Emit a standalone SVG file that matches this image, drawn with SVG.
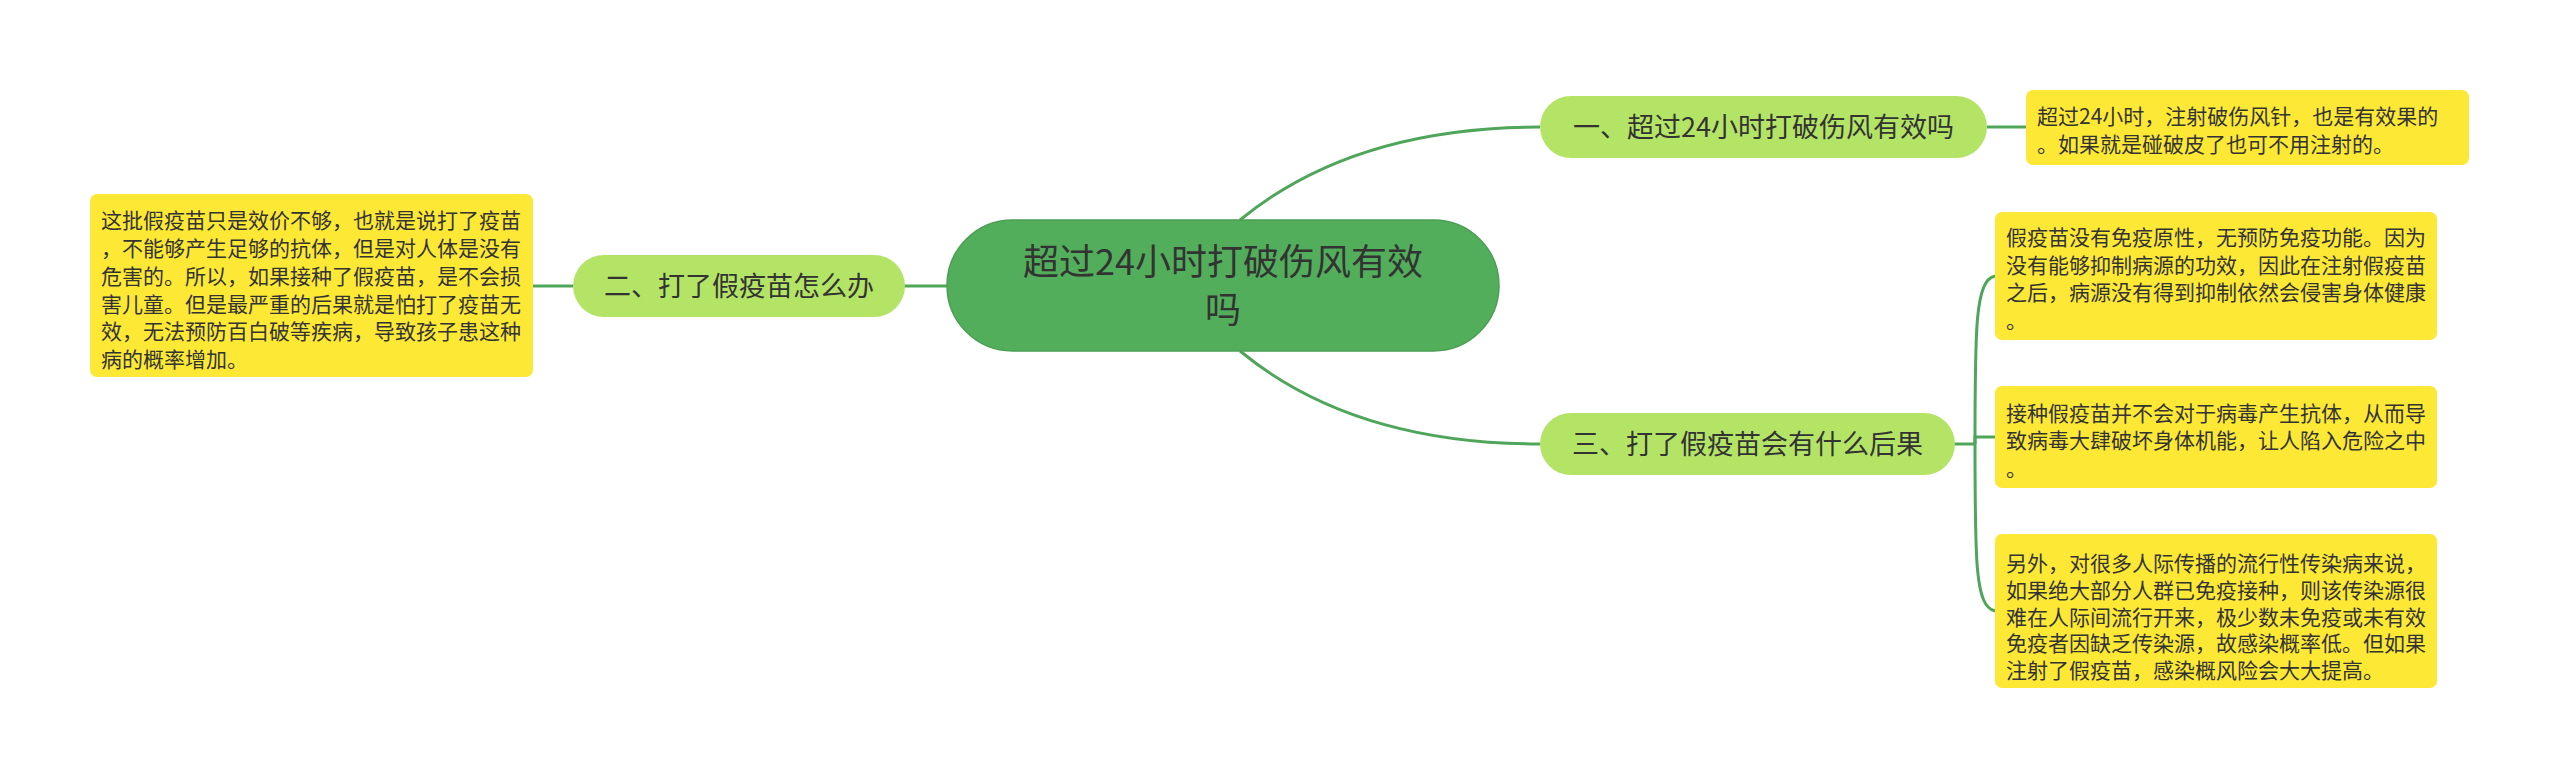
<svg xmlns="http://www.w3.org/2000/svg" width="2560" height="781" viewBox="0 0 2560 781">
<style>
.t{font-family:"Noto Sans CJK SC","Noto Sans",sans-serif;fill:#333333}
.root{fill:#52AE5B;stroke:#4A9F53;stroke-width:1.5}
.br{fill:#B4E466}
.leaf{fill:#FDE935}
.c{fill:none;stroke:#4FA65A;stroke-width:3}
.f36{font-size:36px}
.f27{font-size:27px}
.f21{font-size:21px}
</style>
<rect width="2560" height="781" fill="#ffffff"/>
<g id="connectors">
<path class="c" d="M1240,220 Q1353,127 1540,127"/>
<path class="c" d="M1240,351 Q1353,444 1540,444"/>
<path class="c" d="M947,286 L904,286"/>
<path class="c" d="M573,286 L532,286"/>
<path class="c" d="M1987,127 L2026,127"/>
<path class="c" d="M1954,444 L1975,444"/>
<path class="c" d="M1975,444 C1975,330 1975,280 1995,276"/>
<path class="c" d="M1975,444 L1975,437 L1995,437"/>
<path class="c" d="M1975,444 C1975,560 1975,607 1995,611"/>
</g>
<g id="root">
<rect class="root" x="947" y="220" width="552" height="131" rx="65.5"/>
<text class="t f36" x="1223" y="275" text-anchor="middle">超过24小时打破伤风有效</text>
<text class="t f36" x="1223" y="323" text-anchor="middle">吗</text>
</g>
<g id="n1">
<rect class="br" x="1540" y="96" width="447" height="62" rx="31"/>
<text class="t f27" x="1763.5" y="137" text-anchor="middle">一、超过24小时打破伤风有效吗</text>
</g>
<g id="n1-leaf">
<rect class="leaf" x="2026" y="90" width="443" height="75" rx="7"/>
<text class="t f21" x="2037" y="124">超过24小时，注射破伤风针，也是有效果的</text>
<text class="t f21" x="2037" y="152">。如果就是碰破皮了也可不用注射的。</text>
</g>
<g id="n2">
<rect class="br" x="573" y="255" width="332" height="62" rx="31"/>
<text class="t f27" x="739" y="296" text-anchor="middle">二、打了假疫苗怎么办</text>
</g>
<g id="n2-leaf">
<rect class="leaf" x="90" y="194" width="443" height="183" rx="7"/>
<text class="t f21" x="101" y="228">这批假疫苗只是效价不够，也就是说打了疫苗</text>
<text class="t f21" x="101" y="256">，不能够产生足够的抗体，但是对人体是没有</text>
<text class="t f21" x="101" y="284">危害的。所以，如果接种了假疫苗，是不会损</text>
<text class="t f21" x="101" y="312">害儿童。但是最严重的后果就是怕打了疫苗无</text>
<text class="t f21" x="101" y="339">效，无法预防百白破等疾病，导致孩子患这种</text>
<text class="t f21" x="101" y="367">病的概率增加。</text>
</g>
<g id="n3">
<rect class="br" x="1540" y="413" width="415" height="62" rx="31"/>
<text class="t f27" x="1747.5" y="454" text-anchor="middle">三、打了假疫苗会有什么后果</text>
</g>
<g id="n3-leaf1">
<rect class="leaf" x="1995" y="212" width="442" height="128" rx="7"/>
<text class="t f21" x="2006" y="245">假疫苗没有免疫原性，无预防免疫功能。因为</text>
<text class="t f21" x="2006" y="273">没有能够抑制病源的功效，因此在注射假疫苗</text>
<text class="t f21" x="2006" y="300">之后，病源没有得到抑制依然会侵害身体健康</text>
<text class="t f21" x="2006" y="328">。</text>
</g>
<g id="n3-leaf2">
<rect class="leaf" x="1995" y="386" width="442" height="102" rx="7"/>
<text class="t f21" x="2006" y="421">接种假疫苗并不会对于病毒产生抗体，从而导</text>
<text class="t f21" x="2006" y="448">致病毒大肆破坏身体机能，让人陷入危险之中</text>
<text class="t f21" x="2006" y="476">。</text>
</g>
<g id="n3-leaf3">
<rect class="leaf" x="1995" y="534" width="442" height="154" rx="7"/>
<text class="t f21" x="2006" y="571">另外，对很多人际传播的流行性传染病来说，</text>
<text class="t f21" x="2006" y="598">如果绝大部分人群已免疫接种，则该传染源很</text>
<text class="t f21" x="2006" y="625">难在人际间流行开来，极少数未免疫或未有效</text>
<text class="t f21" x="2006" y="651">免疫者因缺乏传染源，故感染概率低。但如果</text>
<text class="t f21" x="2006" y="678">注射了假疫苗，感染概风险会大大提高。</text>
</g>
</svg>
